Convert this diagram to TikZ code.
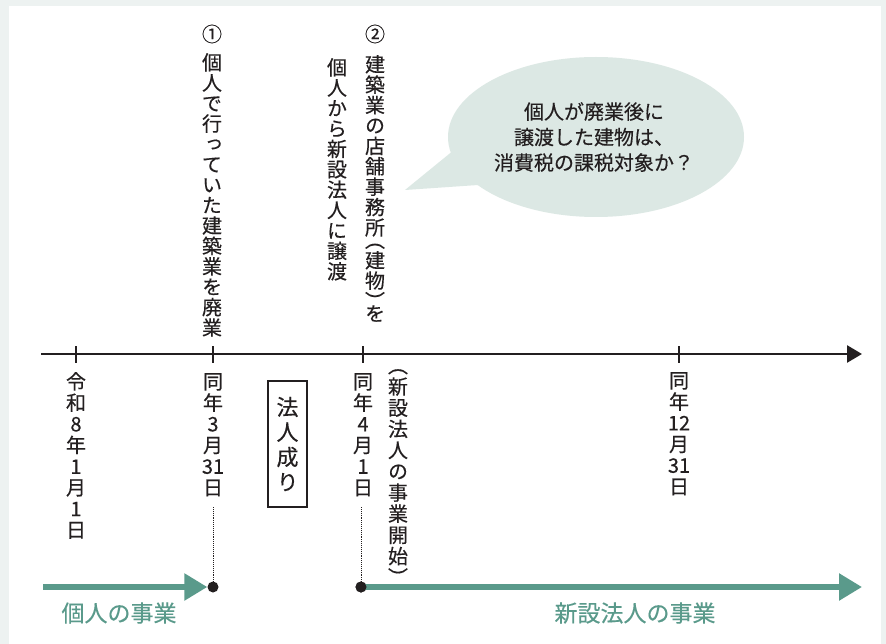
\documentclass[tikz,border=0pt]{standalone}
\usepackage{fontspec}
\setmainfont{Noto Sans CJK JP}[FakeBold=0.35]
\newfontfamily\vjp{Noto Sans CJK JP}[RawFeature=+vert,FakeBold=0.35]
\usetikzlibrary{arrows.meta}
\definecolor{bgc}{HTML}{EDF2F1}
\definecolor{ink}{HTML}{231F20}
\definecolor{tealc}{HTML}{5A9A8B}
\definecolor{bubblec}{HTML}{DCE8E4}
\tikzset{
  vtxt/.style={align=center, inner sep=0pt, anchor=north, text=ink, font=\vjp\fontsize{20}{20.4}\selectfont},
  dtxt/.style={vtxt, font=\vjp\fontsize{20}{21.2}\selectfont},
  tick/.style={draw=ink, line width=2.4pt},
  dotc/.style={circle, fill=ink, inner sep=0pt, minimum size=11pt},
  guide/.style={draw=ink, densely dotted, line width=0.9pt},
  tarrow/.style={draw=tealc, line width=5.5pt, -{Triangle[length=23pt,width=26pt]}},
  tlabel/.style={text=tealc, inner sep=0pt, font=\fontsize{23}{26}\selectfont},
}
\begin{document}
\begin{tikzpicture}[x=1pt,y=-1pt]
\fill[bgc] (0,0) rectangle (886,644);
\fill[white] (9,6) rectangle (881,644);
\useasboundingbox (0,0) rectangle (886,644);
% speech bubble
\fill[bubblec] (596,137) ellipse [x radius=148, y radius=80];
\fill[bubblec] (454,150) -- (405,190) -- (478,185) -- cycle;
\node[align=center, inner sep=0pt, text=ink, font=\fontsize{20}{25.5}\selectfont] (q) at (594,137)
  {個人が廃業後に\\譲渡した建物は、\\消費税の課税対象か？};
% timeline
\coordinate (t0) at (41,354);
\coordinate (t1) at (862,354);
\draw[ink, line width=2.6pt, -{Triangle[length=15pt,width=17pt]}] (t0) -- (t1);
\foreach \x/\n in {76/k1,213/k2,363/k3,679/k4}{
  \coordinate (\n a) at (\x,346);
  \coordinate (\n b) at (\x,363);
  \draw[tick] (\n a) -- (\n b);
}
% top texts
\node[vtxt, anchor=center] (n1) at (212,34) {①};
\node[vtxt] (c1) at (212,53) {個\\人\\で\\行\\っ\\て\\い\\た\\建\\築\\業\\を\\廃\\業};
\node[vtxt, anchor=center] (n2) at (375,34) {②};
\node[vtxt] (c2) at (375,55) {建\\築\\業\\の\\店\\舗\\事\\務\\所\\[-8pt]（\\建\\物\\）\\[-8pt]を};
\node[vtxt] (c3) at (337,58) {個\\人\\か\\ら\\新\\設\\法\\人\\に\\譲\\渡};
% dates
\node[dtxt] (d1) at (76,372) {令\\和\\8\\年\\1\\月\\1\\日};
\node[dtxt] (d2) at (213,373) {同\\年\\3\\月\\31\\日};
\node[dtxt] (d3) at (363,373) {同\\年\\4\\月\\1\\日};
\node[dtxt] (d4) at (679,372) {同\\年\\12\\月\\31\\日};
\node[dtxt] (d5) at (398,369) {（\\新\\設\\法\\人\\の\\事\\業\\開\\始\\）};
% box
\node[draw=ink, line width=1.2pt, minimum width=39pt, minimum height=126pt, align=center,
      inner sep=0pt, text=ink, font=\vjp\fontsize{22}{25}\selectfont] (box) at (287.5,444) {法\\人\\成\\り};
% dots and guides
\node[dotc] (p1) at (213,587) {};
\node[dotc] (p2) at (361,587) {};
\coordinate (g1) at (213,507);
\coordinate (g2) at (361,507);
\draw[guide] (g1) -- (p1);
\draw[guide] (g2) -- (p2);
% teal arrows
\coordinate (a0) at (43,587);
\coordinate (a1) at (862,587);
\draw[tarrow] (a0) -- (p1.west);
\draw[tarrow] (p2.center) -- (a1);
\node[dotc] at (p2) {};
\node[tlabel] (l1) at (119,613) {個人の事業};
\node[tlabel] (l2) at (635,613) {新設法人の事業};
\end{tikzpicture}
\end{document}
